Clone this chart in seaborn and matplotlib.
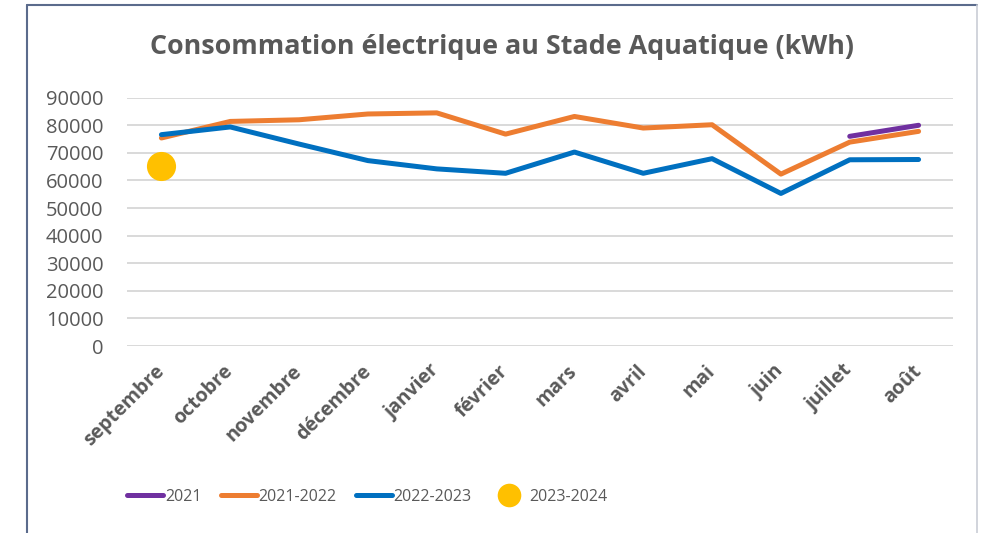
import seaborn as sns
import pandas as pd
import matplotlib.pyplot as plt
from matplotlib.lines import Line2D

# data
months = ['septembre', 'octobre', 'novembre', 'décembre', 'janvier', 'février',
          'mars', 'avril', 'mai', 'juin', 'juillet', 'août']
s2021_months = ['juillet', 'août']
s2021 = [76000, 80000]
s2122 = [75400, 81400, 82000, 84100, 84500, 76800, 83200, 79000, 80200, 62300, 73900, 77800]
s2223 = [76600, 79400, 73200, 67200, 64200, 62600, 70300, 62600, 67900, 55300, 67500, 67600]
s2324_months = ['septembre']
s2324 = [65300]
yticks = [0, 10000, 20000, 30000, 40000, 50000, 60000, 70000, 80000, 90000]

colors = {'2021': '#7030A0', '2021-2022': '#ED7D31', '2022-2023': '#0070C0'}
yellow = '#FFC000'
grey = '#595959'

sns.set_theme(style="white", rc={'figure.figsize': (9.81, 5.33), 'figure.dpi': 100})
plt.rcParams['font.family'] = ['Open Sans', 'DejaVu Sans']

df = pd.concat([
    pd.DataFrame({'mois': s2021_months, 'kWh': s2021, 'saison': '2021'}),
    pd.DataFrame({'mois': months, 'kWh': s2122, 'saison': '2021-2022'}),
    pd.DataFrame({'mois': months, 'kWh': s2223, 'saison': '2022-2023'}),
], ignore_index=True)
df['mois'] = pd.Categorical(df['mois'], categories=months, ordered=True)
df = df.sort_values('mois', kind='stable').reset_index(drop=True)

fig = plt.figure()
ax = fig.add_axes([127 / 981, 1 - 346 / 533, (953 - 127) / 981, (346 - 97.7) / 533])

sns.lineplot(data=df, x='mois', y='kWh', hue='saison',
             hue_order=['2021', '2021-2022', '2022-2023'], palette=colors,
             errorbar=None, linewidth=3.6, legend=False, ax=ax,
             solid_capstyle='round', zorder=3)

pts = pd.DataFrame({'mois': pd.Categorical(s2324_months, categories=months), 'kWh': s2324})
sns.scatterplot(data=pts, x='mois', y='kWh', color=yellow, s=440,
                linewidth=0, ax=ax, zorder=4, legend=False)

ax.set_xlim(-0.5, len(months) - 0.5)
ax.set_ylim(0, 90000)
ax.set_yticks(yticks)
ax.set_yticklabels([str(v) for v in yticks])
ax.set(xlabel=None, ylabel=None)
ax.grid(axis='y', color='#D9D9D9', linewidth=1.4, zorder=0)
ax.set_axisbelow(True)
sns.despine(ax=ax, left=True, bottom=True)
ax.tick_params(axis='both', length=0)
ax.tick_params(axis='y', pad=17, labelsize=14.5, labelcolor=grey)
ax.tick_params(axis='x', pad=16, labelsize=14, labelcolor=grey)
for lab in ax.get_xticklabels():
    lab.set_rotation(45)
    lab.set_ha('right')
    lab.set_va('center')
    lab.set_rotation_mode('anchor')
    lab.set_fontweight('bold')

fig.text(502 / 981, 1 - 47 / 533, 'Consommation électrique au Stade Aquatique (kWh)',
         ha='center', va='center', fontsize=19.4, fontweight='bold', color=grey)

handles = [Line2D([], [], color=colors['2021'], lw=3.6, solid_capstyle='round'),
           Line2D([], [], color=colors['2021-2022'], lw=3.6, solid_capstyle='round'),
           Line2D([], [], color=colors['2022-2023'], lw=3.6, solid_capstyle='round'),
           Line2D([], [], color=yellow, lw=0, marker='o', markersize=17, markeredgewidth=0)]
fig.legend(handles, ['2021', '2021-2022', '2022-2023', '2023-2024'],
           loc='center', bbox_to_anchor=(367 / 981, 1 - 497 / 533), ncol=4,
           frameon=False, handlelength=2.25, handletextpad=0.12, columnspacing=1.2,
           prop={'size': 11.5}, labelcolor=grey)

# chart frame
fig.add_artist(Line2D([27 / 981, 27 / 981], [0, 1 - 5 / 533], transform=fig.transFigure,
                      color='#5B6B8C', lw=1.5))
fig.add_artist(Line2D([27 / 981, 977 / 981], [1 - 5 / 533, 1 - 5 / 533], transform=fig.transFigure,
                      color='#5B6B8C', lw=1.5))
fig.add_artist(Line2D([977 / 981, 977 / 981], [0, 1 - 5 / 533], transform=fig.transFigure,
                      color='#C9CDD6', lw=1.2))

fig.savefig('out.png', dpi=100)
